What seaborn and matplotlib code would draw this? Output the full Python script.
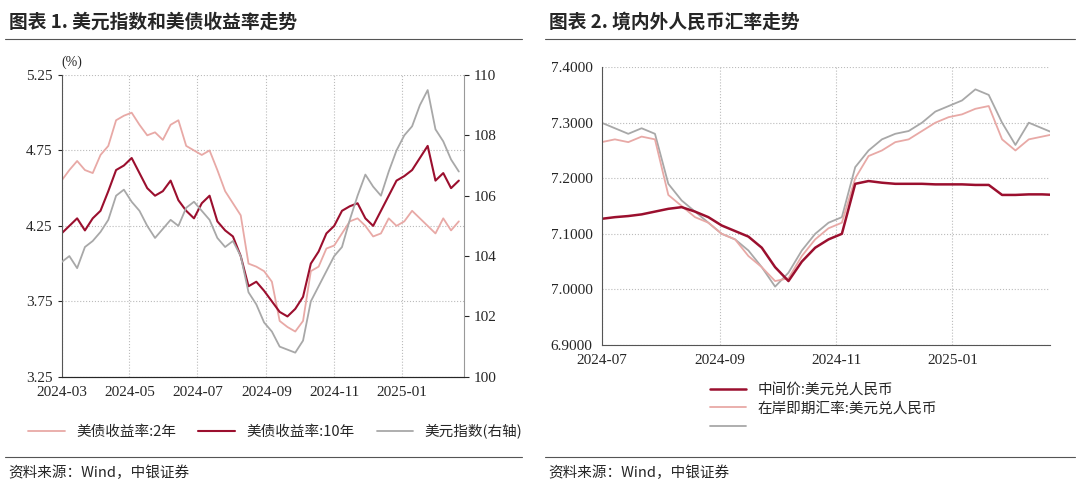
import numpy as np
import pandas as pd
import matplotlib
matplotlib.use("Agg")
import matplotlib.pyplot as plt
import matplotlib.dates as mdates
import seaborn as sns

sns.set_style("white")
plt.rcParams["font.family"] = ["Noto Sans CJK SC"]
plt.rcParams["font.sans-serif"] = ["Noto Sans CJK SC", "DejaVu Sans"]

# Left chart: weekly values from 2024-03-01
us2y = [4.55, 4.62, 4.68, 4.62, 4.60, 4.72, 4.78, 4.95, 4.98, 5.00, 4.92, 4.85, 4.87, 4.82, 4.92, 4.95, 4.78,
        4.75, 4.72, 4.75, 4.62, 4.48, 4.40, 4.32, 4.00, 3.98, 3.95, 3.88, 3.62, 3.58, 3.55, 3.62, 3.95, 3.98,
        4.10, 4.12, 4.20, 4.28, 4.30, 4.25, 4.18, 4.20, 4.30, 4.25, 4.28, 4.35, 4.30, 4.25, 4.20, 4.30, 4.22, 4.28]
us10y = [4.20, 4.25, 4.30, 4.22, 4.30, 4.35, 4.48, 4.62, 4.65, 4.70, 4.60, 4.50, 4.45, 4.48, 4.55, 4.42, 4.35,
         4.30, 4.40, 4.45, 4.28, 4.22, 4.18, 4.05, 3.85, 3.88, 3.82, 3.75, 3.68, 3.65, 3.70, 3.78, 4.00, 4.08,
         4.20, 4.25, 4.35, 4.38, 4.40, 4.30, 4.25, 4.35, 4.45, 4.55, 4.58, 4.62, 4.70, 4.78, 4.55, 4.60, 4.50, 4.55]
dxy = [103.8, 104.0, 103.6, 104.3, 104.5, 104.8, 105.2, 106.0, 106.2, 105.8, 105.5, 105.0, 104.6, 104.9, 105.2, 105.0,
       105.6, 105.8, 105.5, 105.2, 104.6, 104.3, 104.5, 104.0, 102.8, 102.4, 101.8, 101.5, 101.0, 100.9, 100.8, 101.2,
       102.5, 103.0, 103.5, 104.0, 104.3, 105.2, 106.0, 106.7, 106.3, 106.0, 106.8, 107.5, 108.0, 108.3, 109.0, 109.5,
       108.2, 107.8, 107.2, 106.8]
left_dates = pd.date_range("2024-03-01", periods=len(us2y), freq="7D")

# Right chart: weekly values from 2024-07-01
cny_mid = [7.127, 7.130, 7.132, 7.135, 7.140, 7.145, 7.148, 7.140, 7.130, 7.115, 7.105, 7.095, 7.075, 7.040, 7.015,
           7.050, 7.075, 7.090, 7.100, 7.190, 7.195, 7.192, 7.190, 7.190, 7.190, 7.189, 7.189, 7.189, 7.188, 7.188,
           7.170, 7.170, 7.171, 7.171, 7.170]
cny_spot = [7.265, 7.270, 7.265, 7.275, 7.270, 7.170, 7.150, 7.130, 7.120, 7.100, 7.090, 7.060, 7.040, 7.015, 7.020,
            7.060, 7.090, 7.110, 7.120, 7.200, 7.240, 7.250, 7.265, 7.270, 7.285, 7.300, 7.310, 7.315, 7.325, 7.330,
            7.270, 7.250, 7.270, 7.275, 7.280]
cny_off = [7.300, 7.290, 7.280, 7.290, 7.280, 7.190, 7.160, 7.140, 7.120, 7.100, 7.090, 7.070, 7.040, 7.005, 7.030,
           7.070, 7.100, 7.120, 7.130, 7.220, 7.250, 7.270, 7.280, 7.285, 7.300, 7.320, 7.330, 7.340, 7.360, 7.350,
           7.300, 7.260, 7.300, 7.290, 7.280]
right_dates = pd.date_range("2024-07-01", periods=len(cny_mid), freq="7D")

DARK = "#9b0f2e"
PINK = "#e8a9a6"
GRAY = "#a8a8a8"
CJK = "Noto Sans CJK SC"

fig = plt.figure(figsize=(10.8, 4.9), dpi=100)

def frame_axes(ax):
    for s in ["top", "right"]:
        ax.spines[s].set_visible(False)
    ax.spines["left"].set_color("#555555")
    ax.spines["bottom"].set_color("#555555")
    ax.grid(True, ls=":", color="#bbbbbb", lw=0.8)
    ax.tick_params(labelsize=11, length=3, direction="out")
    for lbl in ax.get_xticklabels() + ax.get_yticklabels():
        lbl.set_fontfamily("Liberation Serif")

# ---- left
ax1 = fig.add_axes([0.057, 0.231, 0.373, 0.616])
df1 = pd.DataFrame({"d": left_dates, "y2": us2y, "y10": us10y, "dx": dxy})
sns.lineplot(data=df1, x="d", y="y2", ax=ax1, color=PINK, lw=1.3, label="美债收益率:2年", legend=False)
sns.lineplot(data=df1, x="d", y="y10", ax=ax1, color=DARK, lw=1.5, label="美债收益率:10年", legend=False)
ax1.set_ylim(3.25, 5.25)
ax1.set_yticks([3.25, 3.75, 4.25, 4.75, 5.25])
ax1.set_yticklabels(["3.25", "3.75", "4.25", "4.75", "5.25"])
ax1.set_xlim(pd.Timestamp("2024-03-01"), pd.Timestamp("2025-02-26"))
ax1.xaxis.set_major_locator(mdates.MonthLocator(bymonth=[1, 3, 5, 7, 9, 11]))
ax1.xaxis.set_major_formatter(mdates.DateFormatter("%Y-%m"))
ax1.set_xlabel(""); ax1.set_ylabel("")
ax1b = ax1.twinx()
sns.lineplot(data=df1, x="d", y="dx", ax=ax1b, color=GRAY, lw=1.3, label="美元指数(右轴)", legend=False)
ax1b.set_ylim(100, 110)
ax1b.set_ylabel("")
for s in ["top", "left"]:
    ax1b.spines[s].set_visible(False)
ax1b.spines["right"].set_color("#999999")
ax1b.tick_params(labelsize=11)
frame_axes(ax1)
ax1.spines["right"].set_visible(False)
for lbl in ax1b.get_yticklabels():
    lbl.set_fontfamily("Liberation Serif")
ax1.text(0.0, 1.03, "(%)", transform=ax1.transAxes, fontsize=10, fontfamily="Liberation Serif")
h1, l1 = ax1.get_legend_handles_labels()
h2, l2 = ax1b.get_legend_handles_labels()
fig.legend(h1 + h2, l1 + l2, loc="center", bbox_to_anchor=(0.255, 0.12), ncol=3, frameon=False,
           prop={"family": CJK, "size": 10.5}, handlelength=2.5, columnspacing=1.5)

# ---- right
ax2 = fig.add_axes([0.557, 0.296, 0.415, 0.567])
df2 = pd.DataFrame({"d": right_dates, "m": cny_mid, "s": cny_spot, "o": cny_off})
sns.lineplot(data=df2, x="d", y="o", ax=ax2, color=GRAY, lw=1.3, label=" ", legend=False)
sns.lineplot(data=df2, x="d", y="s", ax=ax2, color=PINK, lw=1.3, label="在岸即期汇率:美元兑人民币", legend=False)
sns.lineplot(data=df2, x="d", y="m", ax=ax2, color=DARK, lw=1.8, label="中间价:美元兑人民币", legend=False)
ax2.set_ylim(6.9, 7.4)
ax2.set_yticks(np.arange(6.9, 7.41, 0.1))
ax2.set_yticklabels(["%.4f" % v for v in np.arange(6.9, 7.41, 0.1)])
ax2.set_xlim(pd.Timestamp("2024-07-01"), pd.Timestamp("2025-02-21"))
ax2.xaxis.set_major_locator(mdates.MonthLocator(bymonth=[1, 3, 5, 7, 9, 11]))
ax2.xaxis.set_major_formatter(mdates.DateFormatter("%Y-%m"))
ax2.set_xlabel(""); ax2.set_ylabel("")
frame_axes(ax2)
h, l = ax2.get_legend_handles_labels()
fig.legend(h[::-1], l[::-1], loc="upper left", bbox_to_anchor=(0.645, 0.245), ncol=1, frameon=False,
           prop={"family": CJK, "size": 10.5}, handlelength=2.5, labelspacing=0.3)

# titles and rules
fig.text(0.008, 0.955, "图表 1. 美元指数和美债收益率走势", fontsize=13.5, fontweight="bold", va="center", fontfamily=CJK)
fig.text(0.508, 0.955, "图表 2. 境内外人民币汇率走势", fontsize=13.5, fontweight="bold", va="center", fontfamily=CJK)
for x0, x1 in [(0.005, 0.483), (0.505, 0.995)]:
    fig.add_artist(plt.Line2D([x0, x1], [0.92, 0.92], color="#555555", lw=0.8))
    fig.add_artist(plt.Line2D([x0, x1], [0.068, 0.068], color="#555555", lw=0.8))
fig.text(0.008, 0.035, "资料来源：Wind，中银证券", fontsize=10.5, va="center", fontfamily=CJK)
fig.text(0.508, 0.035, "资料来源：Wind，中银证券", fontsize=10.5, va="center", fontfamily=CJK)

fig.savefig("out.png", dpi=100, facecolor="white")
